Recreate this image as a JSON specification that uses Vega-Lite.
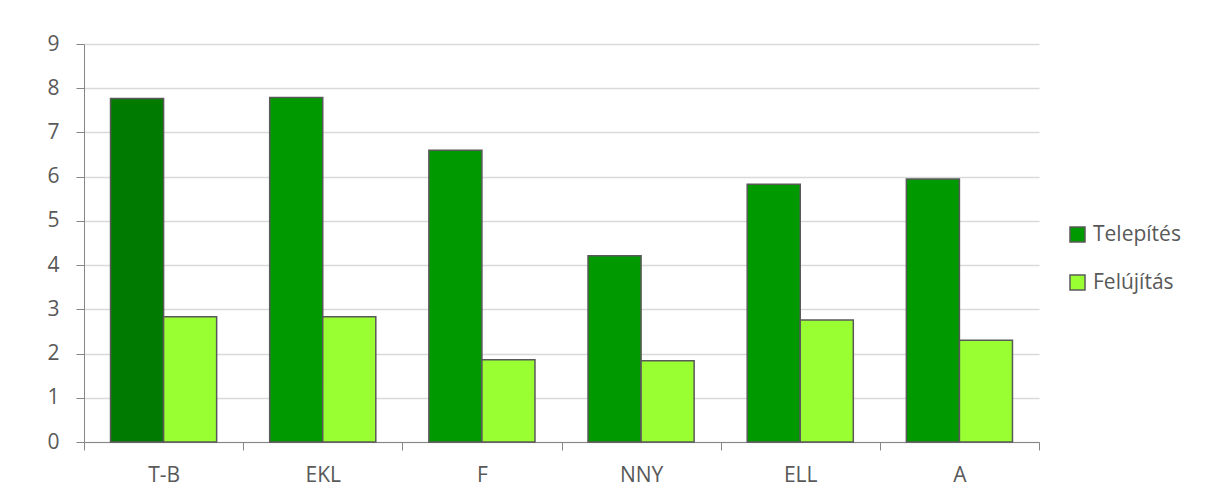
{
  "$schema": "https://vega.github.io/schema/vega-lite/v6.json",
  "width": 955,
  "height": 398,
  "autosize": {"type": "none"},
  "padding": {"left": 84, "top": 44, "right": 173, "bottom": 57},
  "background": "white",
  "config": {
    "view": {"stroke": null},
    "font": "Open Sans",
    "axis": {"labelFont": "Open Sans", "labelFontSize": 21, "labelColor": "#595959", "domainColor": "#868686", "tickColor": "#868686", "gridColor": "#d9d9d9", "gridWidth": 1.5}
  },
  "data": {
    "values": [
      {"kat": "T-B", "sorozat": "Telepítés", "ertek": 7.77},
      {"kat": "T-B", "sorozat": "Felújítás", "ertek": 2.83},
      {"kat": "EKL", "sorozat": "Telepítés", "ertek": 7.79},
      {"kat": "EKL", "sorozat": "Felújítás", "ertek": 2.83},
      {"kat": "F", "sorozat": "Telepítés", "ertek": 6.6},
      {"kat": "F", "sorozat": "Felújítás", "ertek": 1.86},
      {"kat": "NNY", "sorozat": "Telepítés", "ertek": 4.21},
      {"kat": "NNY", "sorozat": "Felújítás", "ertek": 1.84},
      {"kat": "ELL", "sorozat": "Telepítés", "ertek": 5.83},
      {"kat": "ELL", "sorozat": "Felújítás", "ertek": 2.76},
      {"kat": "A", "sorozat": "Telepítés", "ertek": 5.95},
      {"kat": "A", "sorozat": "Felújítás", "ertek": 2.3}
    ]
  },
  "mark": {"type": "bar", "stroke": "#595959", "strokeWidth": 1.5},
  "encoding": {
    "x": {
      "field": "kat", "type": "nominal", "sort": null, "title": null,
      "scale": {"paddingInner": 0, "paddingOuter": 0},
      "axis": {"labelAngle": 0, "tickBand": "extent", "tickSize": 8, "labelPadding": 14, "domainWidth": 1, "grid": false}
    },
    "xOffset": {"field": "sorozat", "type": "nominal", "sort": ["Telepítés", "Felújítás"], "scale": {"paddingInner": 0, "paddingOuter": 0.5}},
    "y": {
      "field": "ertek", "type": "quantitative", "title": null,
      "scale": {"domain": [0, 9], "nice": false},
      "axis": {"values": [0, 1, 2, 3, 4, 5, 6, 7, 8, 9], "tickSize": 8, "labelPadding": 17, "grid": true, "domain": true}
    },
    "color": {
      "field": "sorozat", "type": "nominal", "sort": ["Telepítés", "Felújítás"],
      "scale": {"domain": ["Telepítés", "Felújítás"], "range": ["#009900", "#99ff33"]},
      "condition": {"test": "datum.kat === 'T-B' && datum.sorozat === 'Telepítés'", "value": "#007a00"},
      "legend": {
        "title": null, "orient": "none", "legendX": 983, "legendY": 180,
        "symbolType": "square", "symbolSize": 225, "symbolStrokeColor": "#595959", "symbolStrokeWidth": 1.5,
        "labelFont": "Open Sans", "labelFontSize": 21, "labelColor": "#595959", "rowPadding": 26, "labelOffset": 5
      }
    }
  }
}
